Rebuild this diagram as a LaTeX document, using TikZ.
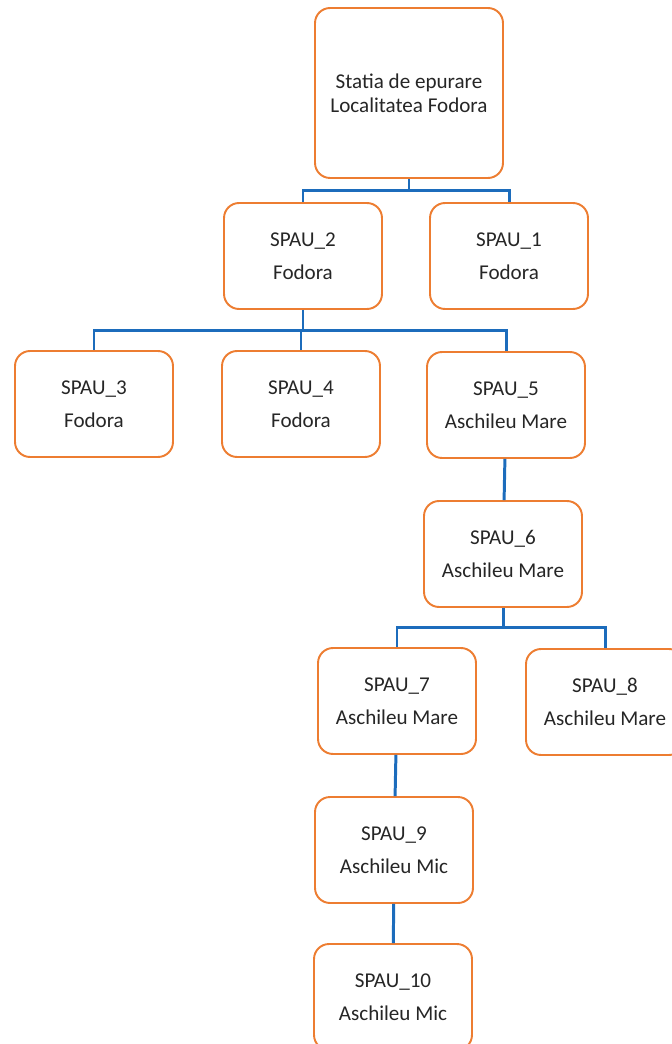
\documentclass[tikz,border=0pt]{standalone}
\usepackage{fontspec}
\setmainfont{Carlito}
\usetikzlibrary{positioning}
\definecolor{boxorange}{RGB}{237,125,49}
\definecolor{pipeblue}{RGB}{28,108,188}

\begin{document}
\begin{tikzpicture}[x=0.02cm, y=-0.02cm]
	\tikzstyle{station}=[rectangle, rounded corners=3mm, draw=boxorange, line width=1.1pt, fill=white, minimum width=3.16cm, minimum height=2.12cm, align=center, text=black!85, font=\fontsize{12}{19}\selectfont]
	\tikzstyle{plant}=[station, minimum width=3.76cm, minimum height=3.4cm, font=\fontsize{12}{13.5}\selectfont]
	\tikzstyle{pipe}=[draw=pipeblue, line width=1.7pt]
	
	\useasboundingbox (0,0) rectangle (672,1044);
	
	\node[plant] at (409,93) (plant) {Statia de epurare\\Localitatea Fodora};
	
	\node[station] at (303,256) (spau2) {SPAU\_2\\Fodora};
	\node[station] at (509,256) (spau1) {SPAU\_1\\Fodora};
	
	\node[station] at (94,404) (spau3) {SPAU\_3\\Fodora};
	\node[station] at (301,404) (spau4) {SPAU\_4\\Fodora};
	\node[station] at (506,405) (spau5) {SPAU\_5\\Aschileu Mare};
	
	\node[station] at (503,554) (spau6) {SPAU\_6\\Aschileu Mare};
	
	\node[station] at (397,701) (spau7) {SPAU\_7\\Aschileu Mare};
	\node[station] at (605,702) (spau8) {SPAU\_8\\Aschileu Mare};
	
	\node[station] at (394,850) (spau9) {SPAU\_9\\Aschileu Mic};
	\node[station] at (393,997) (spau10) {SPAU\_10\\Aschileu Mic};
	
	% busbars under each parent
	\draw[pipe] (plant.south) -- ++(0,12) coordinate (bus1);
	\draw[pipe] (bus1) -| (spau2.north);
	\draw[pipe] (bus1) -| (spau1.north);
	
	\draw[pipe] (spau2.south) -- ++(0,21) coordinate (bus2);
	\draw[pipe] (bus2) -| (spau3.north);
	\draw[pipe] (bus2) -| (spau4.north);
	\draw[pipe] (bus2) -| (spau5.north);
	
	\draw[pipe] (spau6.south) -- ++(0,20) coordinate (bus3);
	\draw[pipe] (bus3) -| (spau7.north);
	\draw[pipe] (bus3) -| (spau8.north);
	
	\path (spau5) edge [pipe] (spau6)
	(spau7) edge [pipe] (spau9)
	(spau9) edge [pipe] (spau10);
	
\end{tikzpicture}
\end{document}
